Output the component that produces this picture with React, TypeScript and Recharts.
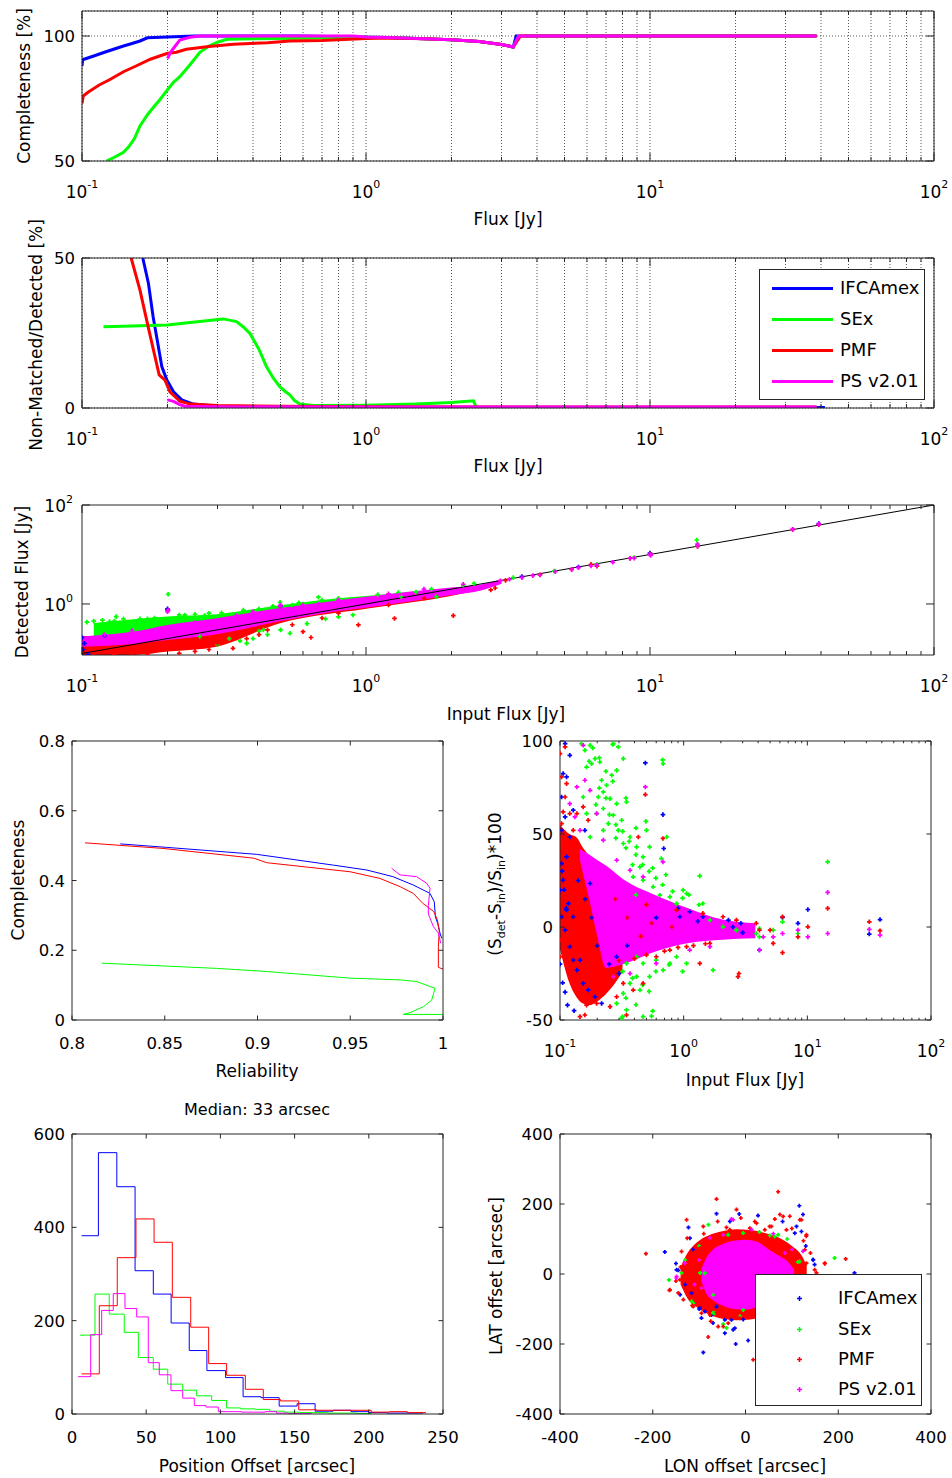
import React from 'react';
import { ComposedChart, Line, Area, Scatter, XAxis, YAxis, CartesianGrid } from 'recharts';

const FONT = '"DejaVu Sans", Verdana, sans-serif';
const INK = '#262626';
const BLUE = '#0000ff';
const GREEN = '#00ff00';
const RED = '#ff0000';
const MAGENTA = '#ff00ff';

const LEGEND_NAMES = ['IFCAmex', 'SEx', 'PMF', 'PS v2.01'];
const LEGEND_COLORS = [BLUE, GREEN, RED, MAGENTA];

const LOG_TICKS = [0.1, 0.2, 0.3, 0.4, 0.5, 0.6, 0.7, 0.8, 0.9, 1, 2, 3, 4, 5, 6, 7, 8, 9, 10, 20, 30, 40, 50, 60, 70, 80, 90, 100];

// ─── Completeness [%] vs flux ────────────────────────────────────────────────
const COMP_BLUE = [[0.1, 88], [0.1005, 90.5], [0.11, 92], [0.12, 93.5], [0.13, 94.8], [0.14, 96], [0.15, 97], [0.16, 98], [0.17, 99.3], [0.2, 99.6], [0.25, 100], [0.6, 100], [0.9, 99.6], [1.2, 99.4], [1.6, 98.9], [2.0, 98.5], [2.5, 97.8], [3.0, 96.6], [3.3, 95.6], [3.38, 100], [38.6, 100]];
const COMP_GREEN = [[0.122, 50], [0.13, 51.5], [0.14, 53.5], [0.146, 55.7], [0.153, 59], [0.16, 64], [0.17, 68.5], [0.18, 72], [0.188, 74.5], [0.2, 78.5], [0.21, 81.5], [0.221, 83.7], [0.24, 88.5], [0.26, 93.5], [0.28, 96], [0.3, 97.5], [0.324, 98.7], [0.5, 99], [0.8, 99.3], [1.0, 99.5], [1.2, 99.4], [1.6, 98.9], [2.0, 98.5], [2.5, 97.8], [3.0, 96.6], [3.3, 95.6], [3.45, 100], [38.6, 100]];
const COMP_RED = [[0.1, 73], [0.101, 76], [0.105, 77.5], [0.115, 80.4], [0.125, 82.5], [0.14, 85.7], [0.155, 88], [0.174, 90.7], [0.199, 93], [0.215, 93.5], [0.233, 94.7], [0.28, 95.8], [0.341, 96.7], [0.45, 97.3], [0.54, 98], [0.7, 98.2], [1.0, 99], [1.2, 99.2], [1.6, 98.9], [2.0, 98.5], [2.5, 97.8], [3.0, 96.6], [3.3, 95.6], [3.5, 100], [38.6, 100]];
const COMP_MAG = [[0.2, 91], [0.205, 93.5], [0.213, 96], [0.221, 98.4], [0.24, 99.5], [0.26, 100], [0.9, 100], [1.0, 99.6], [1.2, 99.4], [1.6, 98.9], [2.0, 98.5], [2.5, 97.8], [3.0, 96.6], [3.3, 95.6], [3.45, 100], [38.6, 100]];

// ─── Non-matched / detected [%] vs flux ──────────────────────────────────────
const NM_BLUE = [[0.1637, 50], [0.1714, 41.5], [0.178, 30.4], [0.184, 22.7], [0.191, 13.8], [0.199, 9.3], [0.21, 5.4], [0.2245, 2.7], [0.2466, 1.3], [0.3, 0.6], [0.5, 0.3], [1, 0.2], [41.3, 0.2]];
const NM_RED = [[0.149, 50], [0.16, 39.3], [0.1714, 26.6], [0.1807, 17.1], [0.187, 11], [0.196, 9.3], [0.204, 5.4], [0.221, 2.3], [0.24, 1.3], [0.3, 0.8], [0.5, 0.6], [1, 0.4], [38.6, 0.3]];
const NM_GREEN = [[0.119, 27.1], [0.15, 27.3], [0.2, 27.7], [0.24, 28.5], [0.26, 28.8], [0.29, 29.3], [0.314, 29.7], [0.35, 28.8], [0.37, 27], [0.39, 24.9], [0.42, 19.5], [0.446, 13.8], [0.47, 10.2], [0.497, 7.1], [0.52, 5.5], [0.54, 4.3], [0.56, 2.5], [0.585, 1.3], [0.65, 0.8], [1.0, 0.9], [1.5, 1.3], [2.0, 1.8], [2.39, 2.4], [2.42, 1.2], [2.45, 0.3]];
const NM_MAG = [[0.2, 2.7], [0.21, 2.2], [0.22, 1.2], [0.23, 0.6], [0.3, 0.4], [1, 0.3], [38.6, 0.3]];

// ─── Detected vs input flux ──────────────────────────────────────────────────
const ONE_TO_ONE = [[0.1, 0.1], [100, 100]];
const DF_GREEN_BAND = [[0.11, [0.2, 0.41]], [0.2, [0.2, 0.56]], [0.298, [0.25, 0.62]], [0.491, [0.46, 0.93]], [0.767, [0.72, 1.28]], [1.0, [0.85, 1.45]], [1.99, [1.5, 2.1]], [2.52, [1.9, 2.45]]];
const DF_RED_BAND = [[0.1, [0.093, 0.226]], [0.152, [0.093, 0.219]], [0.2, [0.109, 0.248]], [0.298, [0.137, 0.348]], [0.491, [0.4, 0.7]], [1.0, [0.8, 1.2]], [1.99, [1.45, 1.92]], [2.4, [1.8, 2.3]]];
const DF_MAG_BAND = [[0.1, [0.137, 0.219]], [0.152, [0.156, 0.276]], [0.2, [0.187, 0.376]], [0.298, [0.245, 0.515]], [0.491, [0.44, 0.82]], [0.767, [0.7, 1.15]], [1.0, [0.84, 1.4]], [1.99, [1.5, 2.15]], [2.52, [1.85, 2.45]], [3.0, [2.55, 3.15]]];
const DF_BLUE = [[0.1, 0.21], [0.101, 0.12], [0.102, 0.16], [0.105, 0.095], [0.12, 0.23], [0.2, 0.8], [0.2, 0.76], [0.5, 0.9], [3.54, 3.6], [5.6, 5.6], [10, 10.7], [39.3, 42]];
const DF_GREEN = [[0.104, 0.43], [0.11, 0.45], [0.118, 0.47], [0.125, 0.44], [0.132, 0.555], [0.14, 0.5], [0.16, 0.5], [0.18, 0.52], [0.201, 1.57], [0.22, 0.6], [0.25, 0.62], [0.26, 0.22], [0.28, 0.65], [0.33, 0.2], [0.36, 0.18], [0.38, 0.16], [0.42, 0.28], [0.435, 0.3], [0.45, 0.24], [0.498, 1.08], [0.54, 0.255], [0.55, 0.95], [0.6, 1.0], [0.68, 1.37], [0.7, 1.2], [0.72, 0.5], [0.9, 0.6], [1.33, 1.4], [1.5, 1.75], [1.77, 1.4], [2.2, 2.4], [3.3, 3.4], [4.6, 4.6], [6.5, 6.3], [8.8, 8.7], [14.6, 19.6], [14.7, 15.5], [0.13, 0.45], [0.17, 0.5], [0.23, 0.6], [0.27, 0.58], [0.31, 0.66], [0.37, 0.75], [0.42, 0.8], [0.47, 0.9], [0.58, 1.05], [0.8, 1.3], [1.1, 1.55], [1.3, 1.7], [1.7, 2.0], [2.4, 2.6], [0.3, 0.15], [0.4, 0.2], [0.5, 0.3], [0.62, 0.4], [0.8, 0.55]];
const DF_RED = [[0.11, 0.09], [0.13, 0.095], [0.17, 0.095], [0.22, 0.1], [0.25, 0.11], [0.34, 0.127], [0.38, 0.2], [0.45, 0.3], [0.6, 0.275], [0.64, 0.21], [0.7, 0.52], [0.94, 0.377], [1.26, 0.51], [2.03, 0.58], [2.75, 1.92], [2.85, 2.1], [3.1, 3.0], [4.1, 3.9], [5.3, 5.0], [6.2, 6.3], [6.5, 5.8], [8.5, 8.3], [10, 10.2], [14.7, 14.5], [31.8, 32.2], [39.3, 40.2], [0.15, 0.09], [0.28, 0.12], [0.3, 0.16], [0.42, 0.24], [0.55, 0.38], [0.8, 0.65], [1.2, 0.95], [1.6, 1.3]];
const DF_MAG = [[0.2, 0.7], [0.201, 0.75], [0.498, 0.88], [0.5, 0.95], [0.68, 1.0], [1.3, 1.5], [2.97, 2.95], [3.2, 3.15], [3.54, 3.4], [3.87, 3.73], [4.09, 3.85], [4.64, 4.5], [5.3, 5.0], [5.6, 5.4], [6.2, 5.85], [6.5, 6.1], [7.4, 6.95], [8.5, 8.4], [8.8, 8.4], [10, 10.1], [10.05, 9.6], [14.7, 14.9], [14.7, 16.3], [31.8, 32.3], [39.3, 40.7], [0.12, 0.24], [0.15, 0.29], [0.25, 0.42], [0.35, 0.58], [0.4, 0.7], [0.6, 0.95], [0.8, 1.2], [1.2, 1.6], [1.6, 2.0], [2.2, 2.5]];

// ─── Completeness vs reliability ─────────────────────────────────────────────
const CR_BLUE = [[0.826, 0.505], [0.851, 0.495], [0.8996, 0.475], [0.941, 0.444], [0.959, 0.43], [0.973, 0.411], [0.984, 0.387], [0.993, 0.363], [0.9953, 0.339], [0.9959, 0.296], [0.9971, 0.277], [0.9984, 0.249], [0.9993, 0.234]];
const CR_GREEN = [[0.816, 0.163], [0.878, 0.148], [0.905, 0.139], [0.95, 0.12], [0.977, 0.115], [0.986, 0.11], [0.991, 0.1], [0.9957, 0.091], [0.9939, 0.057], [0.9894, 0.038], [0.9822, 0.021], [0.9786, 0.016], [1.0, 0.016]];
const CR_RED = [[0.807, 0.508], [0.849, 0.492], [0.898, 0.464], [0.905, 0.451], [0.95, 0.425], [0.966, 0.406], [0.977, 0.382], [0.984, 0.363], [0.989, 0.335], [0.995, 0.311], [0.997, 0.287], [0.998, 0.258], [0.9975, 0.21], [0.9975, 0.151], [1.0, 0.146]];
const CR_MAG = [[0.9723, 0.435], [0.9768, 0.416], [0.9858, 0.411], [0.9912, 0.392], [0.993, 0.378], [0.9921, 0.328], [0.9921, 0.304], [0.9948, 0.268], [0.9975, 0.249], [0.9988, 0.22]];

// ─── Relative flux error vs input flux ───────────────────────────────────────
const RE_RED_BAND = [[0.1, [-12, 55]], [0.119, [-30, 50]], [0.137, [-38, 48]], [0.152, [-41, 43]], [0.172, [-42, 38]], [0.2, [-40, 30]], [0.235, [-36, 10]], [0.28, [-30, -16]], [0.32, [-24, -19]]];
const RE_MAG_BAND = [[0.145, [36, 42]], [0.152, [30, 41]], [0.172, [15, 39]], [0.2, [-5, 36]], [0.235, [-22, 33]], [0.32, [-20, 26]], [0.6, [-13, 17]], [1.1, [-8.6, 10]], [2.06, [-6.8, 4]], [3.8, [-6, 2]]];
const RE_BLUE = [[0.11, 98.6], [0.12, 92.3], [0.106, 82.5], [0.113, 80.7], [0.103, 69.9], [0.11, 59.2], [0.103, 52], [0.113, 37.7], [0.106, 25.2], [0.117, 12.6], [0.103, 5.5], [0.11, -1.7], [0.12, -10.6], [0.128, -17.8], [0.137, -23.2], [0.154, -30.3], [0.169, -33.9], [0.192, -37.5], [0.217, -41.1], [0.145, -17.8], [0.12, 48.4], [0.128, 62.8], [0.103, 34.1], [0.1, 19.8], [0.113, 9.1], [0.128, 5.5], [0.49, 88.2], [0.68, 60.4], [0.69, 42.2], [10.1, 9.4], [31.7, -3.8], [38.7, 4], [6.3, 5.1], [8.4, 2], [4.1, -12.4], [2.9, 2], [2.3, 3.7], [1.43, 5.5], [1.12, 8.2], [0.93, 5.5], [0.287, -16], [0.175, 23.4], [0.159, 52], [0.104, 30], [0.108, 20], [0.112, 10], [0.1, -20], [0.105, -30], [0.11, -35], [0.115, -42], [0.13, -45], [0.14, 25], [0.16, 15], [0.18, 5], [0.2, -10], [0.25, -20], [0.3, -25], [0.35, -10], [0.6, 5], [0.9, 10], [1.3, 3], [2.5, 0], [3, -3]];
const RE_GREEN = [[0.149, 98.6], [0.159, 95], [0.175, 97.7], [0.192, 90.5], [0.21, 88.7], [0.164, 86], [0.18, 87.8], [0.27, 98.6], [0.296, 96.8], [0.325, 90.5], [0.287, 84.2], [0.262, 81.6], [0.217, 78.9], [0.238, 76.2], [0.224, 72.6], [0.204, 69.9], [0.254, 69], [0.287, 66.3], [0.224, 63.7], [0.198, 61], [0.27, 60.1], [0.315, 57.4], [0.345, 67.2], [0.246, 55.6], [0.296, 52], [0.224, 52], [0.368, 48.4], [0.325, 44.9], [0.416, 43.1], [0.47, 37.7], [0.443, 32.3], [0.53, 43.1], [0.5, 52], [0.391, 27], [0.47, 25.2], [0.567, 21.6], [0.683, 87.8], [0.73, 48.4], [0.66, 36.8], [1.35, 27.5], [0.99, 19.8], [0.773, 16.2], [1.055, 18], [1.43, 12.6], [0.875, 12.6], [0.642, 17.1], [0.164, 61], [0.175, 48.4], [0.154, 69.9], [0.345, -19.6], [0.416, -16], [0.47, -19.6], [0.6, -17.8], [0.773, -19.6], [0.683, -23.2], [0.875, -16], [1.73, -23.2], [0.416, -26.7], [0.368, -30.3], [0.325, -35.7], [0.287, -41.1], [0.345, -44.6], [0.47, -48.2], [0.55, -47.9], [0.315, -49.1], [0.443, -33.9], [0.53, -26.7], [1.055, -19.6], [14.6, 35], [6.3, 2.8], [4.1, -0.8], [4.1, -5.3], [8.4, -3.5], [2.67, -1.7], [3.86, -3.5], [5.3, -1.7], [1.63, 3.7], [2.08, 0.1], [0.172, 89.1], [0.208, 91], [0.235, 83.7], [0.267, 78.3], [0.208, 74.7], [0.235, 69.3], [0.195, 65.8], [0.251, 60.4], [0.283, 55], [0.321, 51.4], [0.363, 46], [0.411, 38.9], [0.466, 33.5], [0.526, 29.9], [0.596, 26.3], [0.676, 22.7], [0.813, 19.1], [0.98, 15.5], [1.107, 17.3], [1.33, 12], [0.283, 47.8], [0.341, 42.5], [0.386, 33.5], [0.184, 96.3], [0.267, 98.1], [0.341, 69.3], [0.411, 53.2], [0.495, 56.8], [0.561, 31.7], [0.718, 28.1], [0.676, 89.9], [0.411, 17.3], [0.321, -23.9], [0.386, -27.5], [0.466, -31.1], [0.341, -38.2], [0.526, -34.6], [0.596, -23.9], [0.763, -20.3], [0.98, -23.9], [0.411, -41.8], [0.321, -48.1], [0.561, -45.2]];
const RE_RED = [[0.1, 93.2], [0.11, 96.8], [0.103, 80.7], [0.113, 77.1], [0.106, 61.9], [0.12, 61], [0.103, 55.6], [0.11, 69.9], [0.128, 52], [0.137, 61], [0.154, 64.6], [0.169, 57.4], [0.1, -7], [0.1, -16], [0.49, 71.2], [0.68, 47.6], [0.43, 48.4], [10.1, 0.1], [31.7, 2.8], [38.7, -2], [14.6, 10], [6.3, 5.5], [6.3, -13.8], [2.75, -26.7], [2.8, -25], [8.4, -5.3], [1.35, -19.6], [0.345, -47.3], [0.254, -42.8], [0.198, -41.1], [0.145, -48.2], [0.159, -47.3], [0.164, -42], [0.391, -33.9], [0.325, -30.3], [0.47, -30.3], [0.287, -37.5], [0.224, -35.7], [0.6, -16], [0.773, -12.4], [1.055, -10.6], [1.63, -8.8], [2.08, 5.5], [2.67, 3.7], [3.86, 2], [5, -1.7], [5.3, -8.8], [4.1, -1.7], [1.43, 7.3], [0.875, 9.1], [0.3, -18], [0.4, -17], [0.5, -15], [0.7, -13], [0.9, -11], [1.2, -10], [1.5, -9], [0.35, 5], [0.45, -5], [0.55, 2], [0.8, 0], [0.28, 15], [0.5, 12], [0.26, -24], [0.24, -30]];
const RE_MAG = [[0.49, 75.3], [0.68, 35], [14.6, 18.6], [14.6, -3.5], [31.7, -1.3], [38.7, -4.4], [10.1, -5.3], [8.4, -1.7], [6.3, -3.5], [5.3, -5.3], [4.1, -12.4], [0.154, 97.7], [0.137, 75.3], [0.159, 78.9], [0.12, 66.3], [0.132, 59.2], [0.145, 52], [0.175, 73.5], [0.198, 61], [0.224, 46.7], [0.287, 35.9], [0.368, 30.5], [0.47, 27], [3.4, -1.7], [4.4, -5.3], [3.2, 0.1], [2.35, -3.5], [1.63, -10.6], [1.12, -12.4], [0.6, -19.6], [0.368, -25], [0.27, -26.7]];

// ─── Position offset histograms (bin edges, counts) ──────────────────────────
const HB_EDGES = [6.5, 17.8, 30.2, 42.5, 54.8, 66.8, 79, 90.9, 103.5, 115.3, 127.4, 139.6, 151.7, 163.8, 175.9, 188, 200.1, 212.2, 224.3, 236.4];
const HB_COUNTS = [382, 560, 487, 307, 257, 195, 136, 93, 78, 37, 35, 17, 22, 6, 8, 5, 3, 2, 2];
const HG_EDGES = [5.4, 15.5, 25.1, 35.2, 44.7, 54.8, 64.5, 74.6, 84, 94.1, 104.2, 113.6, 123.4, 133.2, 143, 152.8, 162.6, 172.4, 182.2, 192, 201.8];
const HG_COUNTS = [169, 257, 214, 175, 121, 96, 64, 51, 39, 29, 13, 11, 10, 6, 4, 3, 3, 2, 2, 1];
const HR_EDGES = [6.5, 18.4, 30.5, 43.1, 55.3, 67.6, 80, 92.1, 104.2, 116.8, 128.9, 140.5, 152.8, 165, 177.2, 189.4, 201.6, 213.8, 226, 238.5];
const HR_COUNTS = [86, 232, 335, 418, 368, 250, 186, 108, 83, 53, 31, 28, 9, 8, 8, 8, 4, 5, 3];
const HM_EDGES = [4.2, 12.6, 20, 27.8, 35.7, 43.6, 51.4, 58.8, 66.7, 74.6, 82.4, 90.3, 98.6, 106.4, 114.3, 122.1, 130, 137.8, 145.7, 153.5, 161.4];
const HM_COUNTS = [80, 170, 222, 258, 226, 208, 110, 84, 50, 34, 18, 15, 5, 5, 4, 4, 5, 2, 1, 1];

// ─── LAT vs LON offsets ──────────────────────────────────────────────────────
const LL_RED_BAND = [[-140, [-30, 20]], [-125, [-70, 60]], [-105, [-95, 90]], [-80, [-115, 110]], [-50, [-128, 122]], [-20, [-132, 128]], [10, [-130, 126]], [40, [-120, 118]], [70, [-100, 105]], [100, [-70, 80]], [120, [-40, 55]], [132, [-10, 25]]];
const LL_MAG_BAND = [[-95, [-20, 15]], [-85, [-55, 45]], [-70, [-75, 70]], [-50, [-90, 85]], [-25, [-100, 95]], [0, [-102, 98]], [25, [-95, 92]], [50, [-85, 70]], [75, [-65, 50]], [95, [-35, 30]], [105, [-10, 10]]];
const LL_BLUE = [[-174, 63], [-91, -224], [-21, -200], [5.7, -190], [116, 195], [124, 170], [-62.5, 172.5], [-13.6, 171.5], [27, 167], [-123, 133], [-145, 10.5], [-141, -59], [-95, -126], [-70, -140], [-44.5, -169], [-26.6, -159], [-5, -130], [110, 136], [146, 41], [149, 27], [235, 3], [-113, 70], [-130, -30], [-100, -100], [130, 80], [80, 150], [-150, 30], [-148.6, 11.9], [-116.3, -54.8], [-98.4, -97.7], [-87.6, -107.2], [-73.2, -116.8], [-44.5, -131], [-23, -154.9], [-30.2, -131], [-62.5, -93], [-119.9, 102.4], [-33.7, 150.1], [106.3, 116.7], [120.6, 121.5], [145.8, 40.5]];
const LL_GREEN = [[-80, 141], [192, 46], [-165, -17], [-138, 3], [-48, -143], [-41, -154], [-70, -111], [52.4, 110], [-5, 117], [113, 34], [-98, 3], [-116, -78], [-12, -121], [-100, 80], [30, 120], [90, 100], [-130, 40], [-66.1, -112], [63.2, 107.2], [117, 35.7], [-87.6, 2.4], [-112.7, -83.4], [-5, -102.5], [-37.3, 112], [-69.6, -59.6], [70.4, 112]];
const LL_RED = [[-214.7, 58], [-62.5, 214], [70.4, 235], [216, 43], [171, 29.5], [-164, -46.7], [-80.4, -180], [16.5, -245], [-127, 155], [-19.4, 184], [95.5, 165], [117, 155], [-134, -73], [-145, -54], [131, 108], [153, 3], [-91, 136], [-41, 133], [52, 136], [74, 170], [-120, 3], [-98, -73], [-62, -111], [-19, -121], [-48, -150], [-110, 60], [-140, 20], [-150, -20], [-115, -90], [-75, -135], [140, 60], [125, 95], [100, 130], [20, 150], [-10, 160], [-60, 150], [-90, 115], [-125.6, 102.4], [-137.9, 64.3], [-141.4, -16.7], [-163, -45.3], [-112.7, -93], [-94.8, -112], [-76.8, -116.8], [-58.9, -150.1], [-37.3, -140.6], [-12.2, -126.3], [9.3, -116.8], [56, 135.8], [63.2, 156.8], [81.1, 164.4], [88.3, 126.3], [120.6, 154.8], [131.4, 112], [127.8, 69], [117, 50], [149.3, 12], [170.9, 31], [131.4, 31], [-98.4, 73.8], [-105.6, 35.7], [-116.3, 11.9], [-112.7, -16.7], [-102, -45.3], [-33.7, 126.3], [9.3, 131], [41.6, 126.3], [23.7, 145.3], [-76.8, 92.9], [-119.9, 40.5]];
const LL_MAG = [[-26.6, 155], [-77, 103], [-149, -11.4], [124, 65], [-131, 31], [-48, 112], [13, 127], [-110, -30], [100, 70], [60, 115], [-30.2, 156.8], [-148.6, -7.2], [-100, 40], [-95, -40], [85, 60]];

// ─── helpers ─────────────────────────────────────────────────────────────────
const pts = (a: number[][]) => a.map(([x, y]) => ({ x, y }));
const band = (a: any[]) => a.map(([x, r]) => ({ x, r }));
const steps = (edges: number[], vals: number[]) => edges.map((x, i) => ({ x, y: vals[Math.min(i, vals.length - 1)] }));

const isDecade = (v: number) => Math.abs(Math.log10(v) - Math.round(Math.log10(v))) < 1e-6;
const txt = { fontFamily: FONT, fill: '#000' };

const tickBottom = (log: boolean, fmt: (v: number) => string, len: number) => (p: any) => {
  const v = p.payload.value;
  const major = !log || isDecade(v);
  return (
    <g>
      <line x1={p.x} x2={p.x} y1={p.y} y2={p.y - (major ? len : len / 2)} stroke={INK} />
      {major && (log ? (
        <text x={p.x} y={p.y + 37} textAnchor="middle" fontSize={17} {...txt}>10<tspan dy={-10} fontSize={11}>{Math.round(Math.log10(v))}</tspan></text>
      ) : (
        <text x={p.x} y={p.y + 28.5} textAnchor="middle" fontSize={16.5} {...txt}>{fmt(v)}</text>
      ))}
    </g>
  );
};
const tickTop = (log: boolean, len: number) => (p: any) => {
  const major = !log || isDecade(p.payload.value);
  return <line x1={p.x} x2={p.x} y1={p.y} y2={p.y + (major ? len : len / 2)} stroke={INK} />;
};
const tickLeft = (log: boolean, fmt: (v: number) => string, len: number) => (p: any) => {
  const v = p.payload.value;
  return (
    <g>
      <line x1={p.x} x2={p.x + len} y1={p.y} y2={p.y} stroke={INK} />
      {log ? (
        <text x={p.x - 9} y={p.y + 7} textAnchor="end" fontSize={17} {...txt}>10<tspan dy={-9} fontSize={11}>{Math.round(Math.log10(v))}</tspan></text>
      ) : (
        <text x={p.x - 7} y={p.y + 6} textAnchor="end" fontSize={16.5} {...txt}>{fmt(v)}</text>
      )}
    </g>
  );
};
const tickRight = (len: number) => (p: any) => <line x1={p.x} x2={p.x - len} y1={p.y} y2={p.y} stroke={INK} />;

const L = 70, R = 16, T = 12, B = 48;

type AxisCfg = { xd: number[]; yd: number[]; xt: number[]; yt: number[]; xlog?: boolean; ylog?: boolean; fx?: (v: number) => string; fy?: (v: number) => string; tl: number };

function axes(c: AxisCfg) {
  const fx = c.fx || ((v: number) => String(v));
  const fy = c.fy || ((v: number) => String(v));
  const common = { type: 'number' as const, allowDataOverflow: true, interval: 0 as const, tickSize: 0, tickMargin: 0, tickLine: false, axisLine: { stroke: INK } };
  const xs = c.xlog ? 'log' : 'auto';
  const ys = c.ylog ? 'log' : 'auto';
  return [
    <XAxis key="xb" xAxisId="b" dataKey="x" orientation="bottom" height={B} domain={c.xd} ticks={c.xt} scale={xs as any} tick={tickBottom(!!c.xlog, fx, c.tl)} {...common} />,
    <XAxis key="xt" xAxisId="t" dataKey="x" orientation="top" height={T} domain={c.xd} ticks={c.xt} scale={xs as any} tick={tickTop(!!c.xlog, c.tl)} {...common} />,
    <YAxis key="yl" yAxisId="l" dataKey="y" orientation="left" width={L} domain={c.yd} ticks={c.yt} scale={ys as any} tick={tickLeft(!!c.ylog, fy, c.tl)} {...common} />,
    <YAxis key="yr" yAxisId="r" dataKey="y" orientation="right" width={R} domain={c.yd} ticks={c.yt} scale={ys as any} tick={tickRight(c.tl)} {...common} />,
  ];
}

const line = (key: string, data: any[], color: string, w: number, type: any = 'linear') => (
  <Line key={key} xAxisId="b" yAxisId="l" data={data} dataKey="y" type={type} stroke={color} strokeWidth={w} dot={false} activeDot={false} isAnimationActive={false} />
);
const cloud = (key: string, data: any[], color: string) => (
  <Area key={key} xAxisId="b" yAxisId="l" data={data} dataKey="r" type="monotone" stroke="none" fill={color} fillOpacity={1} dot={false} activeDot={false} isAnimationActive={false} />
);
// MATLAB-style '+' marker
const plus = (color: string, s: number) => (p: any) => (
  <path d={`M${p.cx - s},${p.cy}H${p.cx + s}M${p.cx},${p.cy - s}V${p.cy + s}`} stroke={color} strokeWidth={1.7} fill="none" />
);
const dots = (key: string, data: any[], color: string, s = 2.3) => (
  <Scatter key={key} xAxisId="b" yAxisId="l" data={data} fill={color} shape={plus(color, s)} isAnimationActive={false} />
);

function Frame({ x, y, w, h, children }: { x: number; y: number; w: number; h: number; children: any }) {
  return (
    <div style={{ position: 'absolute', left: x - L, top: y - T }}>
      <ComposedChart width={w + L + R} height={h + T + B} margin={{ top: 0, right: 0, bottom: 0, left: 0 }}>
        {children}
      </ComposedChart>
    </div>
  );
}

function Txt({ x, y, size = 17, rot = false, children }: any) {
  return (
    <div style={{ position: 'absolute', left: x, top: y, transform: `translate(-50%, -50%)${rot ? ' rotate(-90deg)' : ''}`, fontFamily: FONT, fontSize: size, whiteSpace: 'nowrap', lineHeight: 1, color: '#000' }}>
      {children}
    </div>
  );
}

function LegendBox({ x, y, w, h, rows, kind }: { x: number; y: number; w: number; h: number; rows: number[]; kind: 'line' | 'dot' }) {
  return (
    <div style={{ position: 'absolute', left: x, top: y, width: w, height: h, boxSizing: 'border-box', border: `1px solid ${INK}`, background: '#fff' }}>
      {LEGEND_NAMES.map((name, i) => (
        <div key={name} style={{ position: 'absolute', left: 0, top: rows[i], width: '100%' }}>
          {kind === 'line' ? (
            <div style={{ position: 'absolute', left: 12, top: -1.5, width: 61, height: 3, background: LEGEND_COLORS[i] }} />
          ) : (
            <svg width={7} height={7} style={{ position: 'absolute', left: 40, top: -3.5 }}>
              <path d="M1,3.5H6M3.5,1V6" stroke={LEGEND_COLORS[i]} strokeWidth={1.5} />
            </svg>
          )}
          <div style={{ position: 'absolute', left: kind === 'line' ? 80 : 82, top: -10, fontFamily: FONT, fontSize: 18, lineHeight: '20px', whiteSpace: 'nowrap' }}>{name}</div>
        </div>
      ))}
    </div>
  );
}

const grid = <CartesianGrid key="grid" xAxisId="b" yAxisId="l" stroke="#555" strokeDasharray="1 2" />;

export default function App() {
  return (
    <div style={{ position: 'relative', width: 952, height: 1478, background: '#fff', overflow: 'hidden' }}>
      <style>{'body{margin:0}'}</style>

      {/* completeness vs flux */}
      <Frame x={82} y={11} w={852} h={150}>
        {axes({ xd: [0.1, 100], yd: [50, 110], xt: LOG_TICKS, yt: [50, 100], xlog: true, tl: 8 })}
        {grid}
        {line('b', pts(COMP_BLUE), BLUE, 3)}
        {line('g', pts(COMP_GREEN), GREEN, 3)}
        {line('r', pts(COMP_RED), RED, 3)}
        {line('m', pts(COMP_MAG), MAGENTA, 3)}
      </Frame>
      <Txt x={24} y={86} rot>Completeness [%]</Txt>
      <Txt x={508} y={219}>Flux [Jy]</Txt>

      {/* non-matched / detected */}
      <Frame x={82} y={258} w={852} h={150}>
        {axes({ xd: [0.1, 100], yd: [0, 50], xt: LOG_TICKS, yt: [0, 50], xlog: true, tl: 8 })}
        {grid}
        {line('b', pts(NM_BLUE), BLUE, 3)}
        {line('g', pts(NM_GREEN), GREEN, 3)}
        {line('r', pts(NM_RED), RED, 3)}
        {line('m', pts(NM_MAG), MAGENTA, 3)}
      </Frame>
      <Txt x={36} y={335} rot>Non-Matched/Detected [%]</Txt>
      <Txt x={508} y={466}>Flux [Jy]</Txt>
      <LegendBox x={759} y={269} w={166} h={131} rows={[18, 49, 80, 111]} kind="line" />

      {/* detected vs input flux */}
      <Frame x={82} y={505} w={852} h={150}>
        {axes({ xd: [0.1, 100], yd: [0.093, 100], xt: LOG_TICKS, yt: [1, 100], xlog: true, ylog: true, tl: 8 })}
        {cloud('gb', band(DF_GREEN_BAND), GREEN)}
        {dots('bp', pts(DF_BLUE), BLUE)}
        {dots('gp', pts(DF_GREEN), GREEN)}
        {cloud('rb', band(DF_RED_BAND), RED)}
        {dots('rp', pts(DF_RED), RED)}
        {line('one', pts(ONE_TO_ONE), '#000', 1)}
        {cloud('mb', band(DF_MAG_BAND), MAGENTA)}
        {dots('mp', pts(DF_MAG), MAGENTA)}
      </Frame>
      <Txt x={22} y={582} rot>Detected Flux [Jy]</Txt>
      <Txt x={506} y={714}>Input Flux [Jy]</Txt>

      {/* completeness vs reliability */}
      <Frame x={72} y={741} w={371} h={279}>
        {axes({ xd: [0.8, 1], yd: [0, 0.8], xt: [0.8, 0.85, 0.9, 0.95, 1], yt: [0, 0.2, 0.4, 0.6, 0.8], tl: 4.5 })}
        {line('b', pts(CR_BLUE), BLUE, 1)}
        {line('g', pts(CR_GREEN), GREEN, 1)}
        {line('r', pts(CR_RED), RED, 1)}
        {line('m', pts(CR_MAG), MAGENTA, 1)}
      </Frame>
      <Txt x={18} y={880} rot>Completeness</Txt>
      <Txt x={257} y={1071}>Reliability</Txt>

      {/* relative error vs input flux */}
      <Frame x={560} y={741} w={371} h={279}>
        {axes({ xd: [0.1, 100], yd: [-50, 100], xt: LOG_TICKS, yt: [-50, 0, 50, 100], xlog: true, tl: 4.5 })}
        {dots('bp', pts(RE_BLUE), BLUE)}
        {dots('gp', pts(RE_GREEN), GREEN)}
        {cloud('rb', band(RE_RED_BAND), RED)}
        {dots('rp', pts(RE_RED), RED)}
        {cloud('mb', band(RE_MAG_BAND), MAGENTA)}
        {dots('mp', pts(RE_MAG), MAGENTA)}
      </Frame>
      <Txt x={497} y={884} rot>(S<sub style={{ fontSize: 11 }}>det</sub>-S<sub style={{ fontSize: 11 }}>in</sub>)/S<sub style={{ fontSize: 11 }}>in</sub>)*100</Txt>
      <Txt x={745} y={1080}>Input Flux [Jy]</Txt>

      {/* position offset histograms */}
      <Frame x={72} y={1134} w={371} h={280}>
        {axes({ xd: [0, 250], yd: [0, 600], xt: [0, 50, 100, 150, 200, 250], yt: [0, 200, 400, 600], tl: 4.5 })}
        {line('b', steps(HB_EDGES, HB_COUNTS), BLUE, 1, 'stepAfter')}
        {line('g', steps(HG_EDGES, HG_COUNTS), GREEN, 1, 'stepAfter')}
        {line('r', steps(HR_EDGES, HR_COUNTS), RED, 1, 'stepAfter')}
        {line('m', steps(HM_EDGES, HM_COUNTS), MAGENTA, 1, 'stepAfter')}
      </Frame>
      <Txt x={257} y={1110} size={16}>Median: 33 arcsec</Txt>
      <Txt x={257} y={1466}>Position Offset [arcsec]</Txt>

      {/* LAT vs LON offsets */}
      <Frame x={560} y={1134} w={371} h={280}>
        {axes({ xd: [-400, 400], yd: [-400, 400], xt: [-400, -200, 0, 200, 400], yt: [-400, -200, 0, 200, 400], tl: 4.5 })}
        {dots('bp', pts(LL_BLUE), BLUE, 2)}
        {dots('gp', pts(LL_GREEN), GREEN, 2)}
        {cloud('rb', band(LL_RED_BAND), RED)}
        {dots('rp', pts(LL_RED), RED, 2)}
        {cloud('mb', band(LL_MAG_BAND), MAGENTA)}
        {dots('mp', pts(LL_MAG), MAGENTA, 2)}
      </Frame>
      <Txt x={496} y={1276} rot>LAT offset [arcsec]</Txt>
      <Txt x={745} y={1466}>LON offset [arcsec]</Txt>
      <LegendBox x={755} y={1274} w={167} h={132} rows={[23, 54, 84, 114]} kind="dot" />
    </div>
  );
}
